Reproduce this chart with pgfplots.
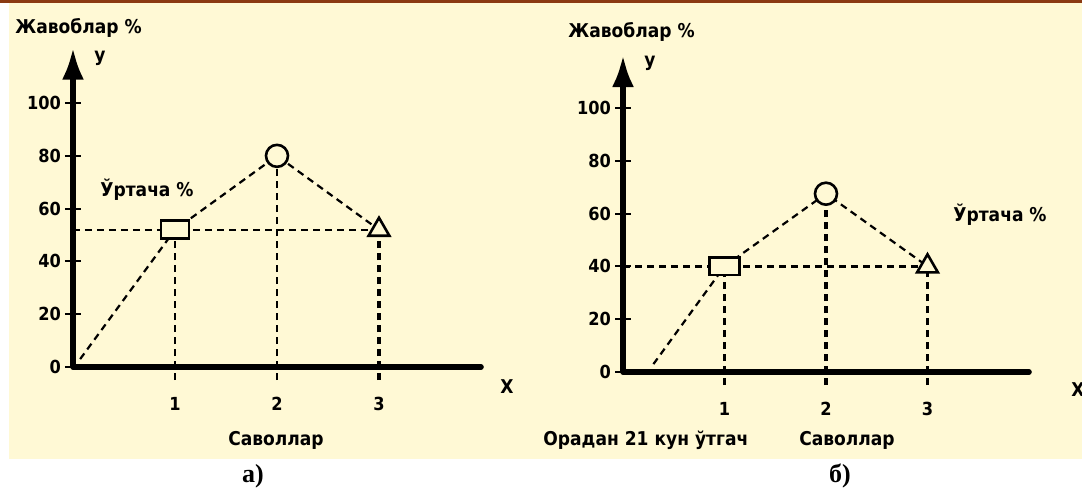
\documentclass[border=0pt]{standalone}
\usepackage{fontspec}
\setmainfont{DejaVu Sans Condensed}
\newfontfamily\lblfont{Liberation Serif}
\usepackage{pgfplots}
\pgfplotsset{compat=1.18}
\usetikzlibrary{arrows.meta}
\definecolor{cream}{HTML}{FFF9D5}
\definecolor{topbrown}{HTML}{8B3A12}

\pgfplotsset{chartax/.style={
  scale only axis, anchor=south west,
  xmin=0, xmax=4, ymin=0,
  axis lines=left, clip=false, axis on top,
  axis line style={line width=2.8pt, black},
  x axis line style={-, line cap=round},
  y axis line style={-{Latex[length=16pt,width=11pt]}},
  xtick={1,2,3}, ytick={0,20,40,60,80,100},
  tick align=center, major tick length=8pt,
  x tick style={draw=none}, y tick style={line width=1pt, black},
  ticklabel style={font=\bfseries\fontsize{9}{10}\selectfont},
  xticklabel style={anchor=center, yshift=-14.5pt},
  yticklabel style={anchor=east, xshift=1.5pt},
  /pgf/number format/assume math mode=true,
},
thinD/.style={black, line width=1.1pt, dash pattern=on 3.5pt off 2.5pt},
thickD/.style={black, line width=1.8pt, dash pattern=on 3.5pt off 2.5pt},
}

\begin{document}
\begin{tikzpicture}
\useasboundingbox (0,0) rectangle (541pt,-246.5pt);
\fill[white] (0,0) rectangle (541pt,-246.5pt);
\fill[cream] (4.5pt,-1.5pt) rectangle (541pt,-229.5pt);
\fill[topbrown] (0,0) rectangle (541pt,-1.6pt);

% ---------------- panel a
\begin{axis}[chartax, at={(36.5pt,-183.5pt)}, width=204pt, height=159.7pt, ymax=121]
\addplot[thinD] coordinates {(0.07,3) (1,52) (2,80) (3,52)};
\addplot[thinD] coordinates {(0,52) (3,52)};
\addplot[thinD] coordinates {(1,-5) (1,52)};
\addplot[thinD] coordinates {(2,-5) (2,80)};
\addplot[thickD] coordinates {(3,-5) (3,52)};
\addplot[only marks, mark=square*, mark size=4.5pt, mark options={xscale=1.55, fill=cream, draw=black, line width=1.3pt, solid}] coordinates {(1,52)};
\addplot[only marks, mark=*, mark size=5.5pt, mark options={fill=cream, draw=black, line width=1.3pt, solid}] coordinates {(2,80)};
\addplot[only marks, mark=triangle*, mark size=6pt, mark options={fill=cream, draw=black, line width=1.3pt, solid}] coordinates {(3,52)};
\end{axis}

% ---------------- panel b
\begin{axis}[chartax, at={(311.5pt,-186pt)}, width=203pt, height=158.5pt, ymax=120]
\addplot[thinD] coordinates {(0.3,3) (1,40) (2,67.5) (3,40)};
\addplot[thinD, line width=1.3pt] coordinates {(0,40) (3,40)};
\addplot[thickD, line width=1.6pt] coordinates {(1,-5) (1,40)};
\addplot[thickD, line width=1.6pt] coordinates {(2,-5) (2,67.5)};
\addplot[thickD] coordinates {(3,-5) (3,40)};
\addplot[only marks, mark=square*, mark size=4.3pt, mark options={xscale=1.75, fill=cream, draw=black, line width=1.3pt, solid}] coordinates {(1,40)};
\addplot[only marks, mark=*, mark size=5.5pt, mark options={fill=cream, draw=black, line width=1.3pt, solid}] coordinates {(2,67.5)};
\addplot[only marks, mark=triangle*, mark size=6pt, mark options={fill=cream, draw=black, line width=1.3pt, solid}] coordinates {(3,40)};
\end{axis}

% ---------------- texts
\begin{scope}[every node/.style={font=\bfseries\fontsize{9.5}{10}\selectfont, inner sep=0pt}]
\node[anchor=west] at (7.5pt,-14pt) {Жавоблар \%};
\node at (50pt,-29pt) {у};
\node[anchor=west] at (50pt,-95pt) {Ўртача \%};
\node at (253.5pt,-193.5pt) {X};
\node at (138pt,-220pt) {Саволлар};

\node[anchor=west] at (284pt,-16pt) {Жавоблар \%};
\node at (325pt,-31.5pt) {у};
\node[anchor=west] at (476.5pt,-107.5pt) {Ўртача \%};
\node at (539pt,-195pt) {X};
\node[anchor=west] at (271.5pt,-220pt) {Орадан 21 кун ўтгач};
\node at (423.5pt,-220pt) {Саволлар};
\end{scope}
\node[font=\lblfont\bfseries\fontsize{13}{14}\selectfont] at (126.5pt,-238pt) {а)};
\node[font=\lblfont\bfseries\fontsize{13}{14}\selectfont] at (420pt,-238pt) {б)};
\end{tikzpicture}
\end{document}
